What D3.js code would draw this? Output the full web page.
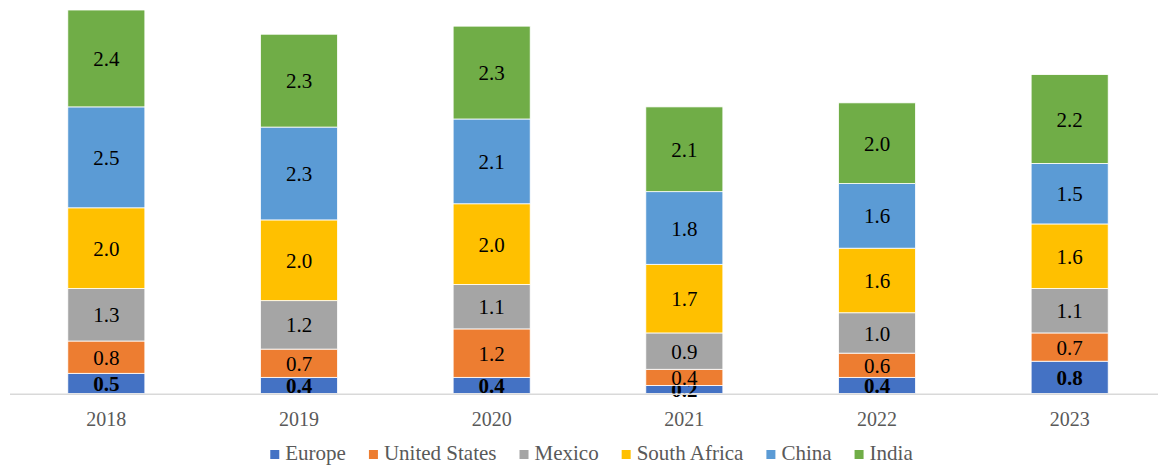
<!DOCTYPE html>
<html>
<head>
<meta charset="utf-8">
<script src="https://cdn.jsdelivr.net/npm/d3@7"></script>
<style>
  html, body { margin: 0; padding: 0; background: #fff; }
  svg { display: block; }
</style>
</head>
<body>
<svg id="chart" width="1158" height="466"></svg>
<script>
// Yearly values per region
const years = ["2018", "2019", "2020", "2021", "2022", "2023"];
const seriesNames = ["Europe", "United States", "Mexico", "South Africa", "China", "India"];
const europe       = [0.5, 0.4, 0.4, 0.2, 0.4, 0.8];
const unitedStates = [0.8, 0.7, 1.2, 0.4, 0.6, 0.7];
const mexico       = [1.3, 1.2, 1.1, 0.9, 1.0, 1.1];
const southAfrica  = [2.0, 2.0, 2.0, 1.7, 1.6, 1.6];
const china        = [2.5, 2.3, 2.1, 1.8, 1.6, 1.5];
const india        = [2.4, 2.3, 2.3, 2.1, 2.0, 2.2];
const colors = ["#4472C4", "#ED7D31", "#A5A5A5", "#FFC000", "#5B9BD5", "#70AD47"];

const seriesValues = [europe, unitedStates, mexico, southAfrica, china, india];
const rows = years.map((y, i) => {
  const r = { year: y };
  seriesNames.forEach((s, j) => { r[s] = seriesValues[j][i]; });
  return r;
});

const svg = d3.select("#chart");
const font = "'Liberation Serif', 'Times New Roman', serif";

const x = d3.scaleBand().domain(years).range([10, 1166]).paddingInner(0.6).paddingOuter(0.3);
const y = d3.scaleLinear().domain([0, 9.5]).range([393.5, 10]);
const color = d3.scaleOrdinal().domain(seriesNames).range(colors);

const stacked = d3.stack().keys(seriesNames)(rows);

// Stacked bar segments
const layers = svg.append("g").selectAll("g")
  .data(stacked)
  .join("g")
  .attr("fill", d => color(d.key));

layers.selectAll("rect")
  .data(d => d.map(p => ({ key: d.key, p })))
  .join("rect")
  .attr("x", d => x(d.p.data.year))
  .attr("width", x.bandwidth())
  .attr("y", d => y(d.p[1]))
  .attr("height", d => y(d.p[0]) - y(d.p[1]))
  .attr("stroke", "#ffffff")
  .attr("stroke-width", 0.8);

// Category axis
const xAxis = d3.axisBottom(x).tickSize(0).tickPadding(0);
const axisG = svg.append("g").attr("transform", "translate(0,394)").call(xAxis);
axisG.select(".domain").remove();
axisG.selectAll("text")
  .attr("y", 32)
  .attr("dy", 0)
  .attr("fill", "#595959")
  .style("font-family", font)
  .style("font-size", "20px");
svg.append("line")
  .attr("x1", 10).attr("x2", 1158)
  .attr("y1", 394.2).attr("y2", 394.2)
  .attr("stroke", "#d9d9d9")
  .attr("stroke-width", 1.6);

// Value labels centered in each segment
layers.each(function(layer) {
  d3.select(this).selectAll("text")
    .data(layer)
    .join("text")
    .attr("x", p => x(p.data.year) + x.bandwidth() / 2)
    .attr("y", p => (y(p[0]) + y(p[1])) / 2)
    .attr("dy", "0.36em")
    .attr("text-anchor", "middle")
    .attr("fill", "#000")
    .style("font-family", font)
    .style("font-size", "21px")
    .style("font-weight", layer.key === "Europe" ? "bold" : "normal")
    .text(p => d3.format(".1f")(p.data[layer.key]));
});

// Legend
const legend = svg.append("g");
const legendGap = 23;
let lx = 0;
seriesNames.forEach((name, i) => {
  const g = legend.append("g").attr("transform", `translate(${lx},0)`);
  g.append("rect").attr("x", 0).attr("y", 450).attr("width", 9).attr("height", 9).attr("fill", colors[i]);
  const t = g.append("text")
    .attr("x", 15).attr("y", 460)
    .attr("fill", "#595959")
    .style("font-family", font)
    .style("font-size", "21px")
    .text(name);
  lx += 15 + t.node().getComputedTextLength() + legendGap;
});
const legendWidth = lx - legendGap;
legend.attr("transform", `translate(${591.5 - legendWidth / 2},0)`);
</script>
</body>
</html>
